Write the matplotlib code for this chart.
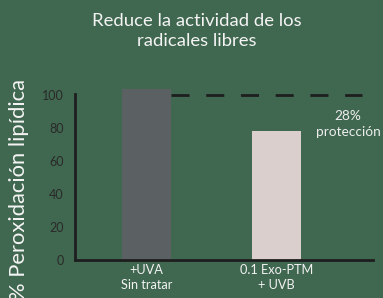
import matplotlib.pyplot as plt

categories = ['+UVA\nSin tratar', '0.1 Exo-PTM\n+ UVB']
values = [104, 78]
bar_colors = ['#5b6063', '#dbcfcd']
yticks = [0, 20, 40, 60, 80, 100]
reference_level = 100
note = '28%\nprotección'

bg = '#40674f'
plt.rcParams['font.family'] = ['Lato', 'DejaVu Sans']

fig = plt.figure(figsize=(3.83, 2.98), dpi=100, facecolor=bg)
ax = fig.add_axes([75 / 383, 38 / 298, 298 / 383, 173 / 298])
ax.set_facecolor(bg)

x = range(len(categories))
ax.bar(x, values, width=0.377, color=bar_colors, zorder=2)
ax.plot([0.19, 1.66], [reference_level] * 2, color='#1e1e1e', lw=2,
        dashes=(6.5, 6), zorder=3)

ax.set_xlim(-0.55, 1.742)
ax.set_ylim(0, 105)
ax.set_yticks(yticks)
ax.set_xticks(list(x))
ax.set_xticklabels(categories, color='#f2f2f2', fontsize=9.2, linespacing=1.25)
ax.tick_params(axis='y', length=0, pad=8, labelsize=9, labelcolor='#2a2a2a')
ax.tick_params(axis='x', length=0, pad=3)

for s in ['top', 'right']:
    ax.spines[s].set_visible(False)
ax.spines['left'].set_bounds(0, 101)
for s in ['left', 'bottom']:
    ax.spines[s].set_color('#1e1e1e')
    ax.spines[s].set_linewidth(2)

ax.text(1.55, 82.5, note, ha='center', va='center', color='#eeeeee',
        fontsize=9.8, linespacing=1.35)

fig.text(197 / 383, 1 - 31 / 298, 'Reduce la actividad de los\nradicales libres',
         ha='center', va='center', color='#f4f4f4', fontsize=13.3, linespacing=1.32)
fig.text(19 / 383, 1 - 190 / 298, '% Peroxidación lipídica', rotation=90,
         ha='center', va='center', color='#f4f4f4', fontsize=15.8)

fig.savefig('out.png', dpi=100, facecolor=bg)
